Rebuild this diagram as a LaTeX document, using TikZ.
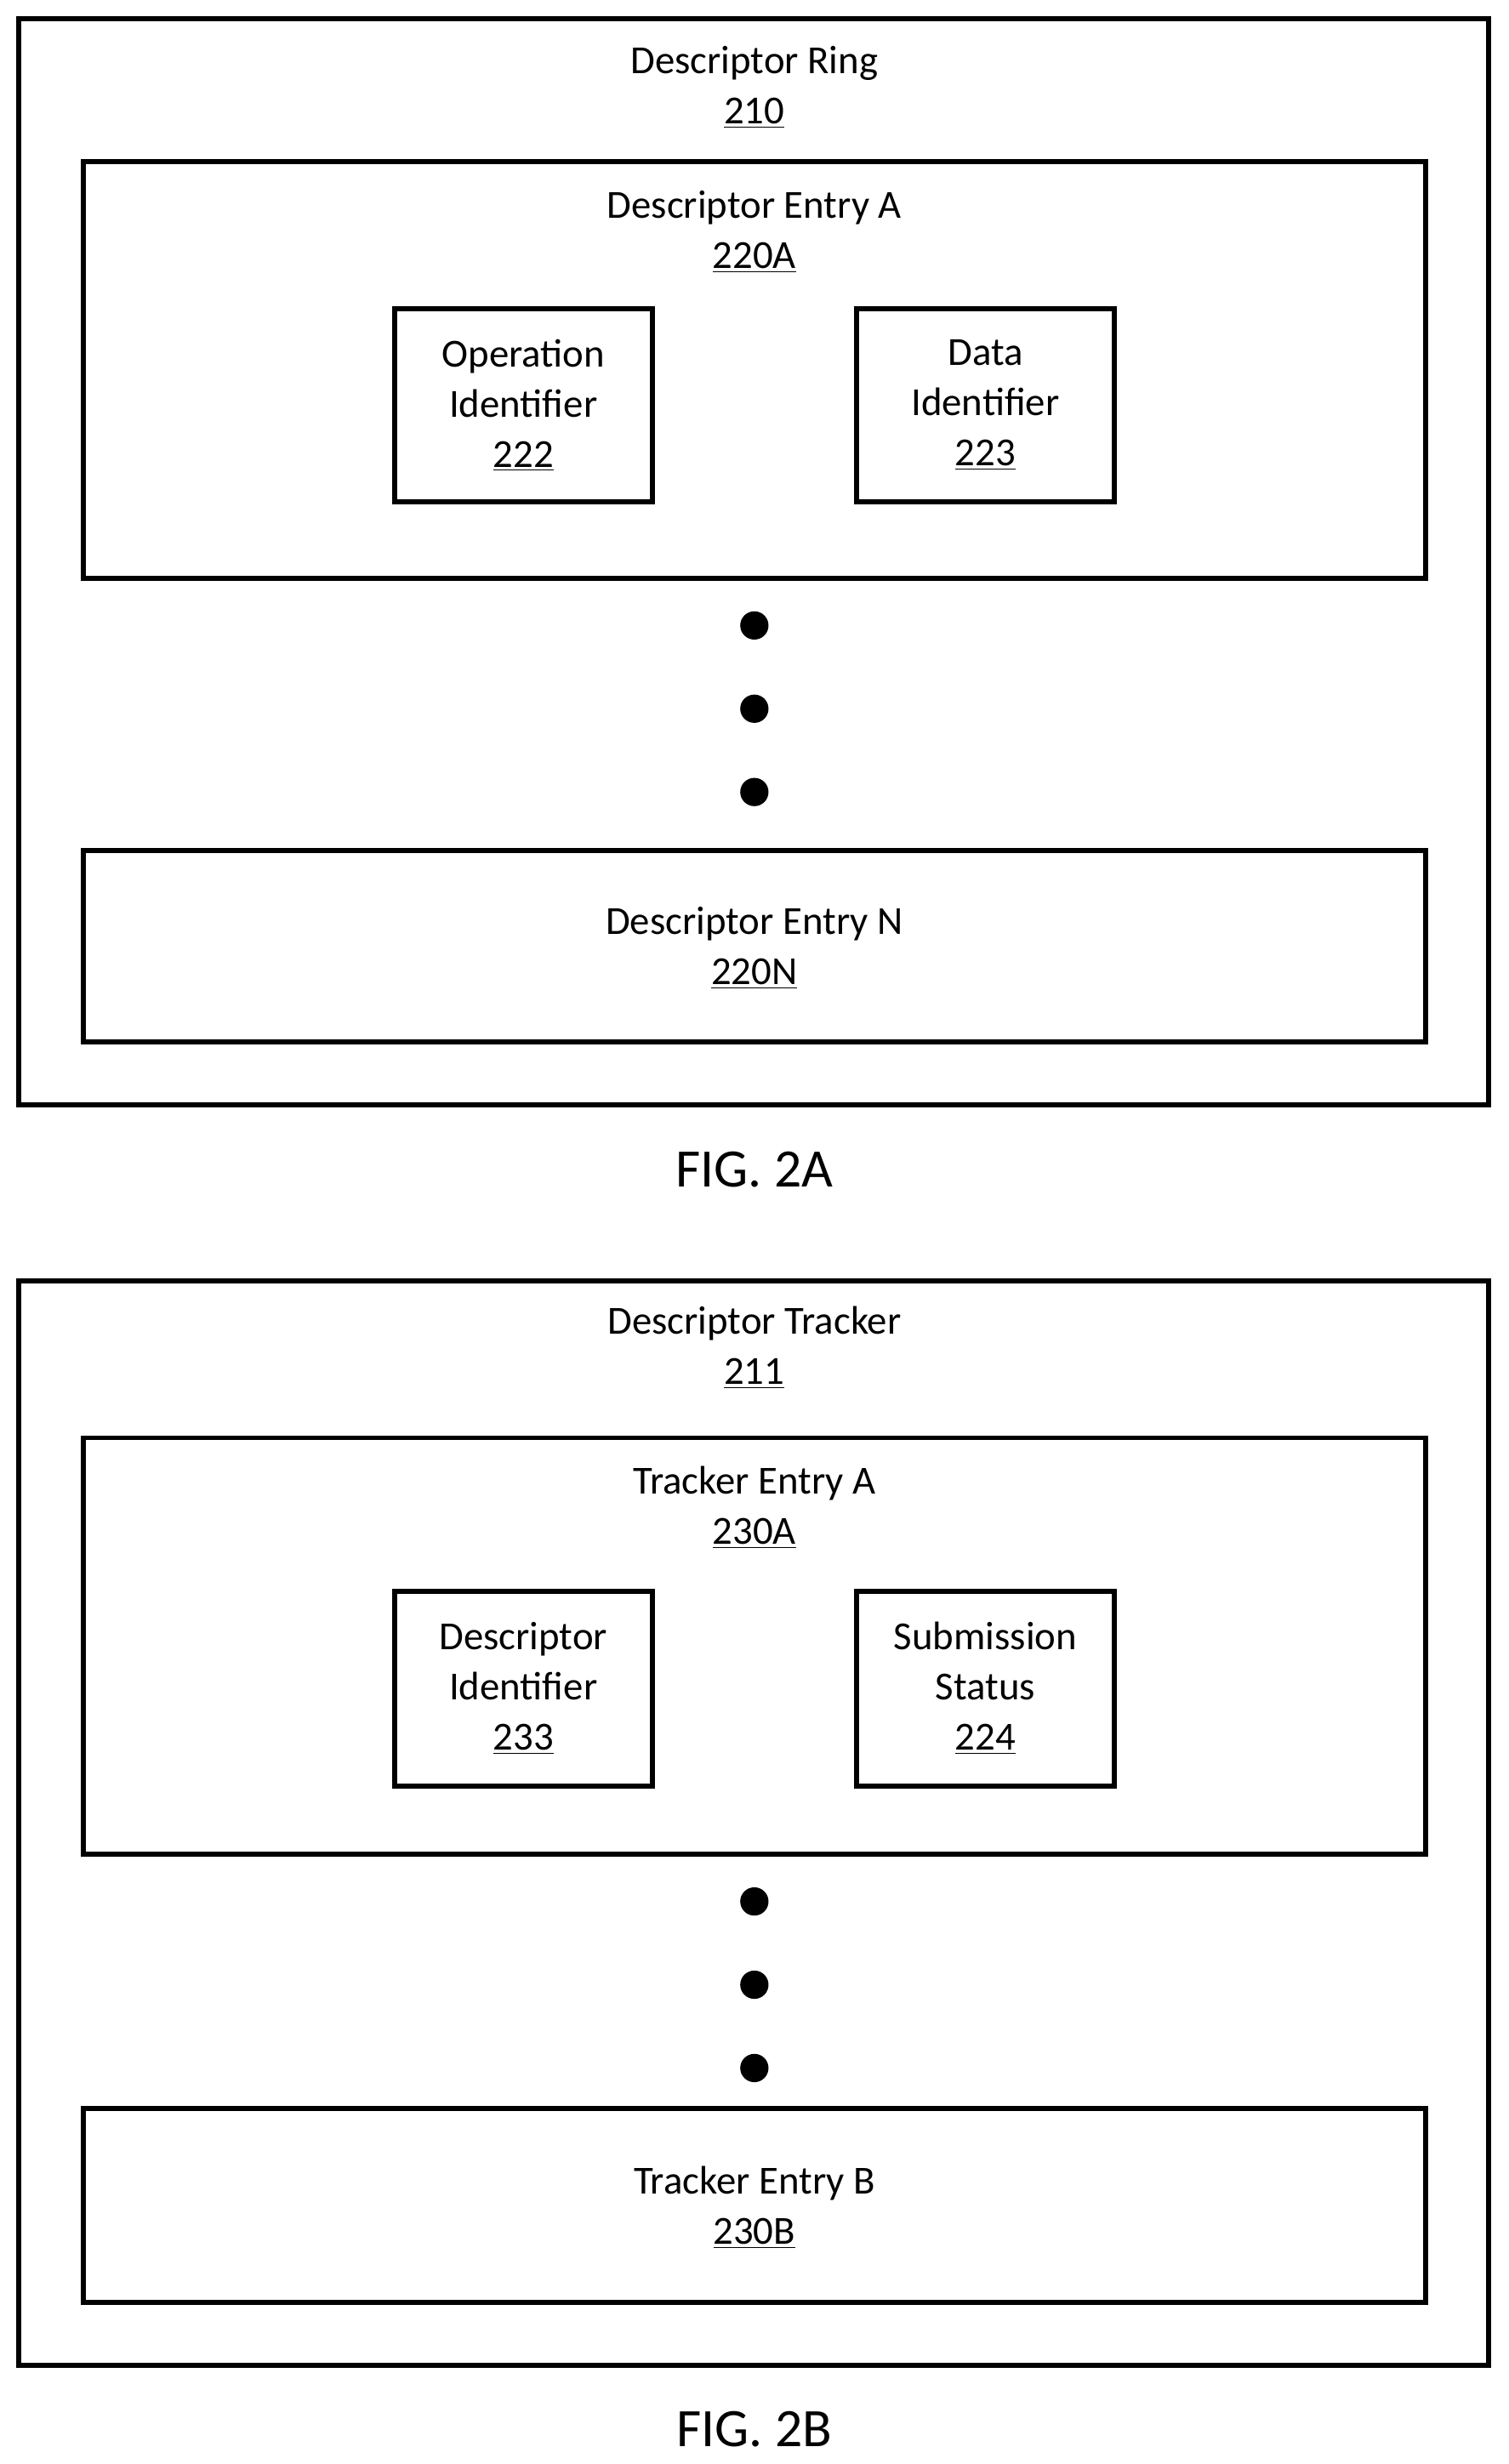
\documentclass[tikz,border=0pt]{standalone}
\usepackage{fontspec}
\setmainfont{Carlito}
\usetikzlibrary{positioning}

\begin{document}
\begin{tikzpicture}[
    x=0.025cm, y=-0.025cm,
    box/.style={rectangle, draw, line width=2.3pt, inner sep=0pt},
    lbl/.style={align=center, font=\fontsize{18}{22.7}\selectfont, inner sep=0pt},
    dot/.style={circle, fill=black, minimum size=0.45cm, inner sep=0pt},
    fig/.style={font=\fontsize{24.5}{28}\selectfont, inner sep=0pt}
]
\useasboundingbox (0,0) rectangle (960,1568);

% FIG. 2A
\node [box, minimum width=23.375cm, minimum height=17.275cm] (ring) at (479.5,357.5) {};
\node [lbl] (ringlbl) at (480,55.5) {Descriptor Ring\\\underline{210}};
\node [box, minimum width=21.35cm, minimum height=6.625cm] (entrya) at (480,235.5) {};
\node [lbl] (entryalbl) at (480,147.5) {Descriptor Entry A\\\underline{220A}};
\node [box, minimum width=4.1cm, minimum height=3.075cm, lbl] (opid) at (333,258) {Operation\\Identifier\\\underline{222}};
\node [box, minimum width=4.1cm, minimum height=3.075cm, lbl] (dataid) at (627,258) {Data\\Identifier\\\underline{223}};
\foreach \y [count=\i] in {398,451,504}
    \node [dot] (dotA\i) at (480,\y) {};
\node [box, minimum width=21.35cm, minimum height=3.05cm] (entryn) at (480,602) {};
\node [lbl] (entrynlbl) at (480,603.5) {Descriptor Entry N\\\underline{220N}};
\node [fig] (figa) at (480,744) {FIG. 2A};

% FIG. 2B
\node [box, minimum width=23.375cm, minimum height=17.25cm] (tracker) at (479.5,1160) {};
\node [lbl] (trackerlbl) at (480,857.5) {Descriptor Tracker\\\underline{211}};
\node [box, minimum width=21.35cm, minimum height=6.625cm] (tentrya) at (480,1047.5) {};
\node [lbl] (tentryalbl) at (480,959.5) {Tracker Entry A\\\underline{230A}};
\node [box, minimum width=4.1cm, minimum height=3.1cm, lbl] (descid) at (333,1074.5) {Descriptor\\Identifier\\\underline{233}};
\node [box, minimum width=4.1cm, minimum height=3.1cm, lbl] (substat) at (627,1074.5) {Submission\\Status\\\underline{224}};
\foreach \y [count=\i] in {1210,1263,1316}
    \node [dot] (dotB\i) at (480,\y) {};
\node [box, minimum width=21.35cm, minimum height=3.075cm] (tentryb) at (480,1403.5) {};
\node [lbl] (tentryblbl) at (480,1405) {Tracker Entry B\\\underline{230B}};
\node [fig] (figb) at (480,1546) {FIG. 2B};
\end{tikzpicture}
\end{document}
